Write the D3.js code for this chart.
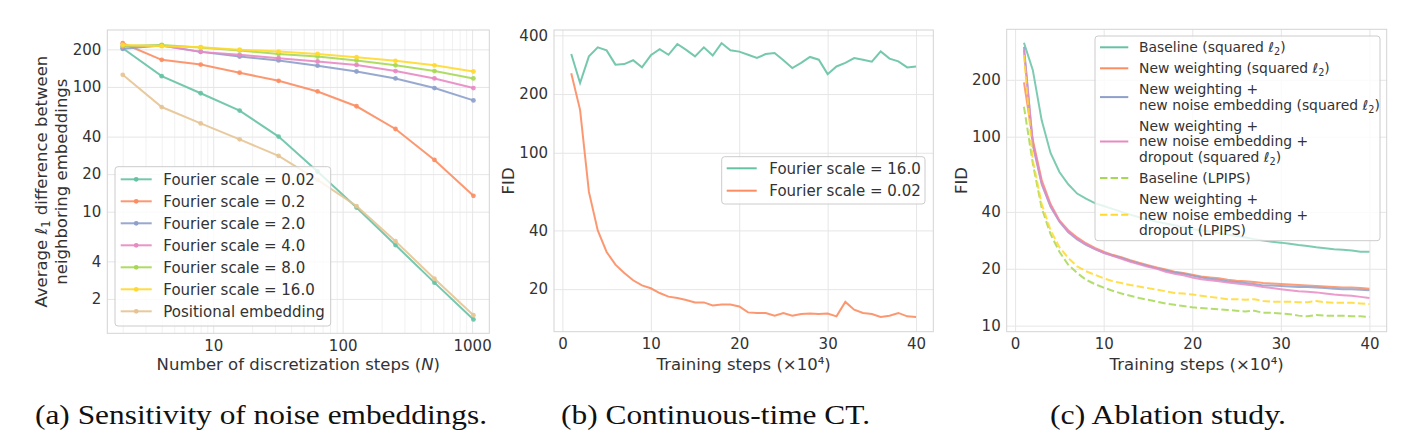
<!DOCTYPE html>
<html>
<head>
<meta charset="utf-8">
<script src="https://cdn.jsdelivr.net/npm/d3@7"></script>
<style>
  body { margin: 0; background: #fff; }
</style>
</head>
<body>
<svg id="fig" width="1420" height="447" font-family="DejaVu Sans, sans-serif"></svg>
<script>
// ---- (a) sensitivity of noise embeddings ----
const stepsN = [2, 4, 8, 16, 32, 64, 128, 256, 512, 1024];
const fourier002 = [204, 122, 89, 64.6, 40, 21, 10.8, 5.4, 2.7, 1.37];
const fourier02 = [224, 165, 151, 130, 112, 92, 70, 46, 26, 13.4];
const fourier2 = [202, 215, 191, 175, 163, 148, 133, 117, 98, 78];
const fourier4 = [211, 215, 191, 181, 170, 160, 150, 134, 117, 98];
const fourier8 = [213, 217, 207, 196, 184, 175, 163, 149, 134, 117];
const fourier16 = [217, 212, 208, 199, 192, 184, 173, 162, 149, 133];
const positional = [125, 69, 51, 38, 28, 18, 11.1, 5.8, 2.9, 1.48];
const ticksAX = [10, 100, 1000];
const minorAX = [2, 3, 4, 5, 6, 7, 8, 9, 20, 30, 40, 50, 60, 70, 80, 90, 200, 300, 400, 500, 600, 700, 800, 900];
const ticksAY = [2, 4, 10, 20, 40, 100, 200];

// ---- (b) continuous-time CT ----
const trainSteps = [1, 2, 3, 4, 5, 6, 7, 8, 9, 10, 11, 12, 13, 14, 15, 16, 17, 18, 19, 20,
  21, 22, 23, 24, 25, 26, 27, 28, 29, 30, 31, 32, 33, 34, 35, 36, 37, 38, 39, 40];
const fidScale16 = [321, 228, 312, 347, 335, 283, 285, 298, 274, 316, 340, 318, 361, 337, 312, 347, 315, 365, 335, 330,
  318, 306, 321, 325, 298, 272, 289, 310, 300, 253, 277, 289, 306, 300, 293, 331, 304, 294, 274, 277];
const fidScale002 = [256, 166, 63, 40, 31, 26.7, 24.2, 22.2, 20.9, 20.2, 19.1, 18.3, 18.0, 17.6, 17.1, 17.1, 16.5, 16.7, 16.7, 16.3,
  15.2, 15.1, 15.1, 14.6, 15.1, 14.6, 14.9, 15.0, 14.9, 15.0, 14.5, 17.2, 15.7, 15.1, 14.9, 14.4, 14.6, 15.1, 14.5, 14.4];
const ticksBX = [0, 10, 20, 30, 40];
const ticksBY = [20, 40, 100, 200, 400];

// ---- (c) ablation study ----
const baselineL2 = [314, 225, 122, 82, 65, 56, 50, 47, 44.5, 43, 41.5, 40, 38.7, 37.5, 36.5, 35.5, 34.7, 34, 33.2, 32.5,
  32, 31.5, 30.9, 30.3, 29.8, 29.3, 28.7, 28.2, 27.8, 27.5, 27.1, 26.7, 26.4, 26.0, 25.7, 25.4, 25.2, 25.0, 24.6, 24.6];
const newWeightL2 = [194, 96, 59, 44, 36, 32, 29.3, 27.3, 25.8, 24.6, 23.7, 23.0, 22.2, 21.5, 20.9, 20.3, 19.8, 19.3, 19.0, 18.6,
  18.2, 18.0, 17.8, 17.5, 17.3, 17.2, 17.0, 16.8, 16.7, 16.6, 16.5, 16.4, 16.3, 16.2, 16.1, 16.0, 15.9, 15.9, 15.8, 15.7];
const newEmbL2 = [299, 90, 56, 42.6, 35.5, 31.2, 28.6, 26.8, 25.4, 24.3, 23.5, 22.8, 22.0, 21.3, 20.7, 20.1, 19.6, 19.1, 18.8, 18.4,
  18.0, 17.7, 17.5, 17.2, 17.0, 16.8, 16.6, 16.3, 16.3, 16.2, 16.1, 16.0, 16.0, 15.9, 15.8, 15.7, 15.6, 15.6, 15.5, 15.4];
const dropoutL2 = [287, 93, 57, 43.2, 35.8, 31.5, 28.9, 27.0, 25.5, 24.3, 23.4, 22.6, 21.8, 21.1, 20.5, 20.0, 19.3, 18.8, 18.5, 18.0,
  17.6, 17.4, 17.2, 16.9, 16.7, 16.5, 16.3, 16.0, 15.8, 15.6, 15.4, 15.2, 15.1, 15.0, 14.8, 14.6, 14.5, 14.4, 14.2, 14.0];
const baselineLpips = [144, 72, 42, 30.5, 24.6, 21, 19, 17.5, 16.6, 15.9, 15.3, 14.8, 14.4, 14.0, 13.7, 13.4, 13.1, 12.9, 12.7, 12.5,
  12.4, 12.3, 12.2, 12.1, 12.0, 11.9, 12.0, 11.7, 11.7, 11.6, 11.5, 11.3, 11.2, 11.4, 11.3, 11.3, 11.3, 11.2, 11.2, 11.1];
const fullLpips = [270, 75, 44, 32, 26, 22.8, 20.6, 19.4, 18.6, 17.8, 17.2, 16.8, 16.4, 16.1, 15.8, 15.5, 15.2, 14.9, 14.8, 14.6,
  14.4, 14.2, 14.0, 13.8, 13.8, 13.7, 13.8, 13.5, 13.4, 13.4, 13.4, 13.3, 13.3, 13.5, 13.3, 13.2, 13.2, 13.2, 13.1, 13.0];
const ticksCY = [10, 20, 40, 100, 200];

const svg = d3.select("#fig");
const ink = "#333";
const tickFs = 15, labelFs = 16.5, legFs = 15, legFsC = 13.9;

// text with "ℓ_2" subscripts and "$N$" italics
function rich(sel, str, fs) {
  let shift = 0;
  str.split(/(ℓ_\d|\$[^$]+\$)/).forEach(p => {
    if (!p) return;
    let t;
    if (p.startsWith("ℓ_")) {
      t = sel.append("tspan").attr("font-style", "italic").text("ℓ");
      if (shift) t.attr("dy", -shift);
      sel.append("tspan").attr("font-size", fs * 0.7).attr("dy", fs * 0.22).text(p.slice(2));
      shift = fs * 0.22;
      return;
    }
    if (p.startsWith("$")) t = sel.append("tspan").attr("font-style", "italic").text(p.slice(1, -1));
    else t = sel.append("tspan").text(p);
    if (shift) { t.attr("dy", -shift); shift = 0; }
  });
}

function frame(g, x, y, p, xt, yt, xMinor) {
  const w = p.right - p.left, h = p.bottom - p.top;
  if (xMinor) {
    g.append("g").attr("transform", `translate(0,${p.bottom})`)
      .call(d3.axisBottom(x).tickValues(xMinor).tickSize(-h).tickFormat(""))
      .call(s => { s.select(".domain").remove(); s.selectAll("line").attr("stroke", "#f1f1f1"); });
  }
  const gx = g.append("g").attr("transform", `translate(0,${p.bottom})`)
    .call(d3.axisBottom(x).tickValues(xt).tickSize(-h).tickPadding(7).tickFormat(d => d));
  const gy = g.append("g").attr("transform", `translate(${p.left},0)`)
    .call(d3.axisLeft(y).tickValues(yt).tickSize(-w).tickPadding(6).tickFormat(d => d));
  [gx, gy].forEach(a => {
    a.select(".domain").remove();
    a.attr("font-family", "DejaVu Sans, sans-serif").attr("font-size", tickFs).attr("color", ink);
    a.selectAll("line").attr("stroke", "#e6e6e6");
  });
  g.append("rect").attr("x", p.left).attr("y", p.top).attr("width", w).attr("height", h)
    .attr("fill", "none").attr("stroke", "#d4d4d4").attr("stroke-width", 1);
}

function xLabel(p, txt) {
  const t = svg.append("text").attr("x", (p.left + p.right) / 2).attr("y", 370)
    .attr("text-anchor", "middle").attr("font-size", labelFs).attr("fill", ink);
  rich(t, txt, labelFs);
}

function yLabel(lines, xs, cy) {
  lines.forEach((l, i) => {
    const t = svg.append("text").attr("transform", `translate(${xs[i]},${cy}) rotate(-90)`)
      .attr("text-anchor", "middle").attr("font-size", labelFs).attr("fill", ink);
    rich(t, l, labelFs);
  });
}

function legendBox(b) {
  svg.append("rect").attr("x", b[0]).attr("y", b[1]).attr("width", b[2] - b[0]).attr("height", b[3] - b[1])
    .attr("rx", 3).attr("fill", "#fff").attr("fill-opacity", 0.8)
    .attr("stroke", "#cccccc").attr("stroke-width", 1);
}

// ================= panel (a) =================
const pA = { left: 107.3, right: 489.3, top: 30, bottom: 333.3 };
const xA = d3.scaleLog().domain([1.52, 1358]).range([pA.left, pA.right]);
const yA = d3.scaleLog().domain([1.06, 286]).range([pA.bottom, pA.top]);
const gA = svg.append("g");
frame(gA, xA, yA, pA, ticksAX, ticksAY, minorAX);

const seriesA = [
  { name: "Fourier scale = 0.02", color: "#66c2a5", v: fourier002 },
  { name: "Fourier scale = 0.2", color: "#fc8d62", v: fourier02 },
  { name: "Fourier scale = 2.0", color: "#8da0cb", v: fourier2 },
  { name: "Fourier scale = 4.0", color: "#e78ac3", v: fourier4 },
  { name: "Fourier scale = 8.0", color: "#a6d854", v: fourier8 },
  { name: "Fourier scale = 16.0", color: "#ffd92f", v: fourier16 },
  { name: "Positional embedding", color: "#e5c494", v: positional }
];
const lineA = d3.line().x(d => xA(d[0])).y(d => yA(d[1]));
seriesA.forEach(s => {
  const pts = stepsN.map((n, i) => [n, s.v[i]]);
  gA.append("path").datum(pts).attr("d", lineA).attr("fill", "none")
    .attr("stroke", s.color).attr("stroke-width", 2).attr("opacity", 0.9);
  gA.append("g").selectAll("circle").data(pts).join("circle")
    .attr("cx", d => xA(d[0])).attr("cy", d => yA(d[1])).attr("r", 2.4)
    .attr("fill", s.color).attr("opacity", 0.9);
});

legendBox([115, 166.7, 330.7, 326]);
seriesA.forEach((s, i) => {
  const cy = 179.3 + 22 * i;
  svg.append("line").attr("x1", 120.7).attr("x2", 151.7).attr("y1", cy).attr("y2", cy)
    .attr("stroke", s.color).attr("stroke-width", 2).attr("opacity", 0.9);
  svg.append("circle").attr("cx", 136.2).attr("cy", cy).attr("r", 2.4).attr("fill", s.color);
  svg.append("text").attr("x", 163.3).attr("y", cy).attr("dy", "0.36em")
    .attr("font-size", legFs).attr("fill", ink).text(s.name);
});
xLabel(pA, "Number of discretization steps ($N$)");
yLabel(["Average ℓ_1 difference between", "neighboring embeddings"], [46.5, 66.5], (pA.top + pA.bottom) / 2);

// ================= panel (b) =================
const pB = { left: 554, right: 933.3, top: 30, bottom: 331.7 };
const xB = d3.scaleLinear().domain([-0.95, 41.95]).range([pB.left, pB.right]);
const yB = d3.scaleLog().domain([12.1, 426]).range([pB.bottom, pB.top]);
const gB = svg.append("g");
frame(gB, xB, yB, pB, ticksBX, ticksBY);
const seriesB = [
  { name: "Fourier scale = 16.0", color: "#66c2a5", v: fidScale16 },
  { name: "Fourier scale = 0.02", color: "#fc8d62", v: fidScale002 }
];
const lineB = d3.line().x(d => xB(d[0])).y(d => yB(d[1]));
seriesB.forEach(s => {
  gB.append("path").datum(trainSteps.map((t, i) => [t, s.v[i]])).attr("d", lineB)
    .attr("fill", "none").attr("stroke", s.color).attr("stroke-width", 2).attr("opacity", 0.9);
});
legendBox([721.7, 156.7, 925, 204]);
seriesB.forEach((s, i) => {
  const cy = 168.3 + 22.4 * i;
  svg.append("line").attr("x1", 726.7).attr("x2", 756.7).attr("y1", cy).attr("y2", cy)
    .attr("stroke", s.color).attr("stroke-width", 2);
  svg.append("text").attr("x", 769.3).attr("y", cy).attr("dy", "0.36em")
    .attr("font-size", legFs).attr("fill", ink).text(s.name);
});
xLabel(pB, "Training steps (×10⁴)");
yLabel(["FID"], [514], (pB.top + pB.bottom) / 2);

// ================= panel (c) =================
const pC = { left: 1006.7, right: 1386.7, top: 29.3, bottom: 331.7 };
const xC = d3.scaleLinear().domain([-0.95, 41.95]).range([pC.left, pC.right]);
const yC = d3.scaleLog().domain([9.29, 370]).range([pC.bottom, pC.top]);
const gC = svg.append("g");
frame(gC, xC, yC, pC, ticksBX, ticksCY);
const seriesC = [
  { lines: ["Baseline (squared ℓ_2)"], color: "#66c2a5", v: baselineL2, dash: null },
  { lines: ["New weighting (squared ℓ_2)"], color: "#fc8d62", v: newWeightL2, dash: null },
  { lines: ["New weighting +", "new noise embedding (squared ℓ_2)"], color: "#8da0cb", v: newEmbL2, dash: null },
  { lines: ["New weighting +", "new noise embedding +", "dropout (squared ℓ_2)"], color: "#e78ac3", v: dropoutL2, dash: null },
  { lines: ["Baseline (LPIPS)"], color: "#a6d854", v: baselineLpips, dash: "7.4,3.2" },
  { lines: ["New weighting +", "new noise embedding +", "dropout (LPIPS)"], color: "#ffd92f", v: fullLpips, dash: "7.4,3.2" }
];
const lineC = d3.line().x(d => xC(d[0])).y(d => yC(d[1]));
seriesC.forEach(s => {
  gC.append("path").datum(trainSteps.map((t, i) => [t, s.v[i]])).attr("d", lineC)
    .attr("fill", "none").attr("stroke", s.color).attr("stroke-width", 2)
    .attr("stroke-dasharray", s.dash).attr("opacity", 0.85);
});
legendBox([1095, 36, 1380, 240.7]);
let rowY = 47.3;
seriesC.forEach(s => {
  const n = s.lines.length;
  const cy = rowY + (n - 1) * 15.6 / 2;
  svg.append("line").attr("x1", 1100).attr("x2", 1128.3).attr("y1", cy).attr("y2", cy)
    .attr("stroke", s.color).attr("stroke-width", 2).attr("stroke-dasharray", s.dash);
  s.lines.forEach((l, j) => {
    const t = svg.append("text").attr("x", 1139).attr("y", rowY + j * 15.6 + 4.9)
      .attr("font-size", legFsC).attr("fill", ink);
    rich(t, l, legFsC);
  });
  rowY += n * 15.6 + 5.4;
});
xLabel(pC, "Training steps (×10⁴)");
yLabel(["FID"], [967], (pC.top + pC.bottom) / 2);

// ================= captions =================
const captions = [
  { x: 35, w: 452, text: "(a) Sensitivity of noise embeddings." },
  { x: 561, w: 309, text: "(b) Continuous-time CT." },
  { x: 1050, w: 236, text: "(c) Ablation study." }
];
svg.append("g").attr("font-family", "Liberation Serif, Times New Roman, serif")
  .selectAll("text").data(captions).join("text")
  .attr("x", d => d.x).attr("y", 424)
  .attr("textLength", d => d.w).attr("lengthAdjust", "spacingAndGlyphs")
  .attr("font-size", 28).attr("fill", "#111").text(d => d.text);
</script>
</body>
</html>
